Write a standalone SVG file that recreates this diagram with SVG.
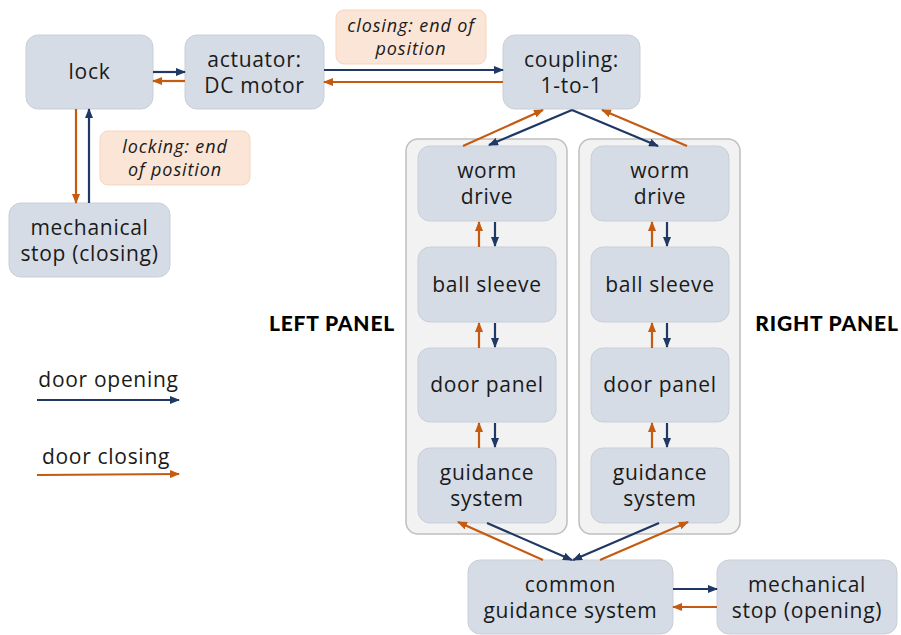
<svg xmlns="http://www.w3.org/2000/svg" width="901" height="635" viewBox="0 0 901 635">
<style>
.node{fill:#d6dce5;stroke:#c9cfd8;stroke-width:1}
.panel{fill:#f2f2f2;stroke:#bfbfbf;stroke-width:1.5}
.note{fill:#fbe5d6;stroke:#f6d5bf;stroke-width:1}
.t{font-family:"Open Sans","Lato",sans-serif;font-size:21px;letter-spacing:0.7px;fill:#1a1a1a;text-anchor:middle}
.n{font-family:"Open Sans","Lato",sans-serif;font-size:18px;letter-spacing:0.9px;font-style:italic;fill:#1a1a1a;text-anchor:middle}
.h{font-family:"Lato","Liberation Sans",sans-serif;font-size:21px;letter-spacing:0.8px;font-weight:900;fill:#000;text-anchor:middle}
.b{stroke:#203864;stroke-width:2.2;fill:none;marker-end:url(#ab)}
.o{stroke:#c55a11;stroke-width:2.2;fill:none;marker-end:url(#ao)}
</style>
<defs>
<marker id="ab" viewBox="0 0 10 8" refX="9" refY="4" markerWidth="10" markerHeight="8" markerUnits="userSpaceOnUse" orient="auto"><path d="M0,0 L10,4 L0,8 Z" fill="#203864"/></marker>
<marker id="ao" viewBox="0 0 10 8" refX="9" refY="4" markerWidth="10" markerHeight="8" markerUnits="userSpaceOnUse" orient="auto"><path d="M0,0 L10,4 L0,8 Z" fill="#c55a11"/></marker>
</defs>
<rect width="901" height="635" fill="#ffffff"/>

<g id="left-panel-container"><rect class="panel" x="406" y="139" width="161" height="395" rx="12"/></g>
<g id="right-panel-container"><rect class="panel" x="579" y="139" width="161" height="395" rx="12"/></g>

<g id="note-closing"><rect class="note" x="336" y="10" width="150" height="54" rx="8"/>
<text class="n" x="411" y="32">closing: end of</text><text class="n" x="411" y="55">position</text></g>
<g id="note-locking"><rect class="note" x="100" y="131" width="150" height="54" rx="8"/>
<text class="n" x="175" y="153">locking: end</text><text class="n" x="175" y="176">of position</text></g>

<g id="lock"><rect class="node" x="26" y="35" width="127" height="74" rx="12"/><text class="t" x="89.5" y="79">lock</text></g>
<g id="actuator"><rect class="node" x="185" y="35" width="139" height="74" rx="12"/><text class="t" x="254.5" y="67">actuator:</text><text class="t" x="254.5" y="93">DC motor</text></g>
<g id="coupling"><rect class="node" x="503" y="35" width="137" height="74" rx="12"/><text class="t" x="571.5" y="67">coupling:</text><text class="t" x="571.5" y="93">1-to-1</text></g>
<g id="mech-stop-closing"><rect class="node" x="9" y="203" width="161" height="74" rx="12"/><text class="t" x="89.5" y="235">mechanical</text><text class="t" x="89.5" y="261">stop (closing)</text></g>

<g id="left-worm"><rect class="node" x="418" y="146" width="138" height="75" rx="12"/><text class="t" x="487" y="178">worm</text><text class="t" x="487" y="204">drive</text></g>
<g id="left-ball"><rect class="node" x="418" y="247" width="138" height="75" rx="12"/><text class="t" x="487" y="292">ball sleeve</text></g>
<g id="left-door"><rect class="node" x="418" y="348" width="138" height="74" rx="12"/><text class="t" x="487" y="392">door panel</text></g>
<g id="left-guidance"><rect class="node" x="418" y="448" width="138" height="75" rx="12"/><text class="t" x="487" y="480">guidance</text><text class="t" x="487" y="506">system</text></g>

<g id="right-worm"><rect class="node" x="591" y="146" width="138" height="75" rx="12"/><text class="t" x="660" y="178">worm</text><text class="t" x="660" y="204">drive</text></g>
<g id="right-ball"><rect class="node" x="591" y="247" width="138" height="75" rx="12"/><text class="t" x="660" y="292">ball sleeve</text></g>
<g id="right-door"><rect class="node" x="591" y="348" width="138" height="74" rx="12"/><text class="t" x="660" y="392">door panel</text></g>
<g id="right-guidance"><rect class="node" x="591" y="448" width="138" height="75" rx="12"/><text class="t" x="660" y="480">guidance</text><text class="t" x="660" y="506">system</text></g>

<g id="common-guidance"><rect class="node" x="468" y="560" width="205" height="74" rx="12"/><text class="t" x="570.5" y="592">common</text><text class="t" x="570.5" y="618">guidance system</text></g>
<g id="mech-stop-opening"><rect class="node" x="717" y="560" width="180" height="74" rx="12"/><text class="t" x="807" y="592">mechanical</text><text class="t" x="807" y="618">stop (opening)</text></g>

<g id="labels">
<text class="h" x="332" y="331">LEFT PANEL</text>
<text class="h" x="827" y="331">RIGHT PANEL</text>
<text class="t" x="108.5" y="387">door opening</text>
<text class="t" x="106" y="464">door closing</text>
</g>

<g id="connectors">
<line class="b" x1="37" y1="400" x2="179" y2="400"/>
<line class="o" x1="37" y1="475" x2="179" y2="474"/>

<line class="b" x1="153" y1="72" x2="185" y2="72"/>
<line class="o" x1="185" y1="81" x2="153" y2="81"/>
<line class="b" x1="324" y1="70" x2="503" y2="70"/>
<line class="o" x1="503" y1="82" x2="324" y2="82"/>

<line class="o" x1="76" y1="109" x2="76" y2="203"/>
<line class="b" x1="89" y1="203" x2="89" y2="109"/>

<line class="o" x1="463" y1="146" x2="543" y2="110"/>
<line class="b" x1="572" y1="110" x2="489" y2="145"/>
<line class="b" x1="572" y1="110" x2="658" y2="146"/>
<line class="o" x1="687" y1="146" x2="602" y2="110"/>

<line class="o" x1="479" y1="247" x2="479" y2="222"/>
<line class="b" x1="495" y1="222" x2="495" y2="246"/>
<line class="o" x1="479" y1="348" x2="479" y2="323"/>
<line class="b" x1="495" y1="323" x2="495" y2="347"/>
<line class="o" x1="479" y1="448" x2="479" y2="423"/>
<line class="b" x1="495" y1="423" x2="495" y2="447"/>

<line class="o" x1="652" y1="247" x2="652" y2="222"/>
<line class="b" x1="667" y1="222" x2="667" y2="246"/>
<line class="o" x1="652" y1="348" x2="652" y2="323"/>
<line class="b" x1="667" y1="323" x2="667" y2="347"/>
<line class="o" x1="652" y1="448" x2="652" y2="423"/>
<line class="b" x1="667" y1="423" x2="667" y2="447"/>

<line class="b" x1="487" y1="523" x2="572" y2="560"/>
<line class="o" x1="543" y1="560" x2="458" y2="522"/>
<line class="b" x1="659" y1="523" x2="573" y2="560"/>
<line class="o" x1="600" y1="560" x2="688" y2="522"/>

<line class="b" x1="673" y1="589" x2="717" y2="589"/>
<line class="o" x1="717" y1="607" x2="673" y2="607"/>
</g>
</svg>
